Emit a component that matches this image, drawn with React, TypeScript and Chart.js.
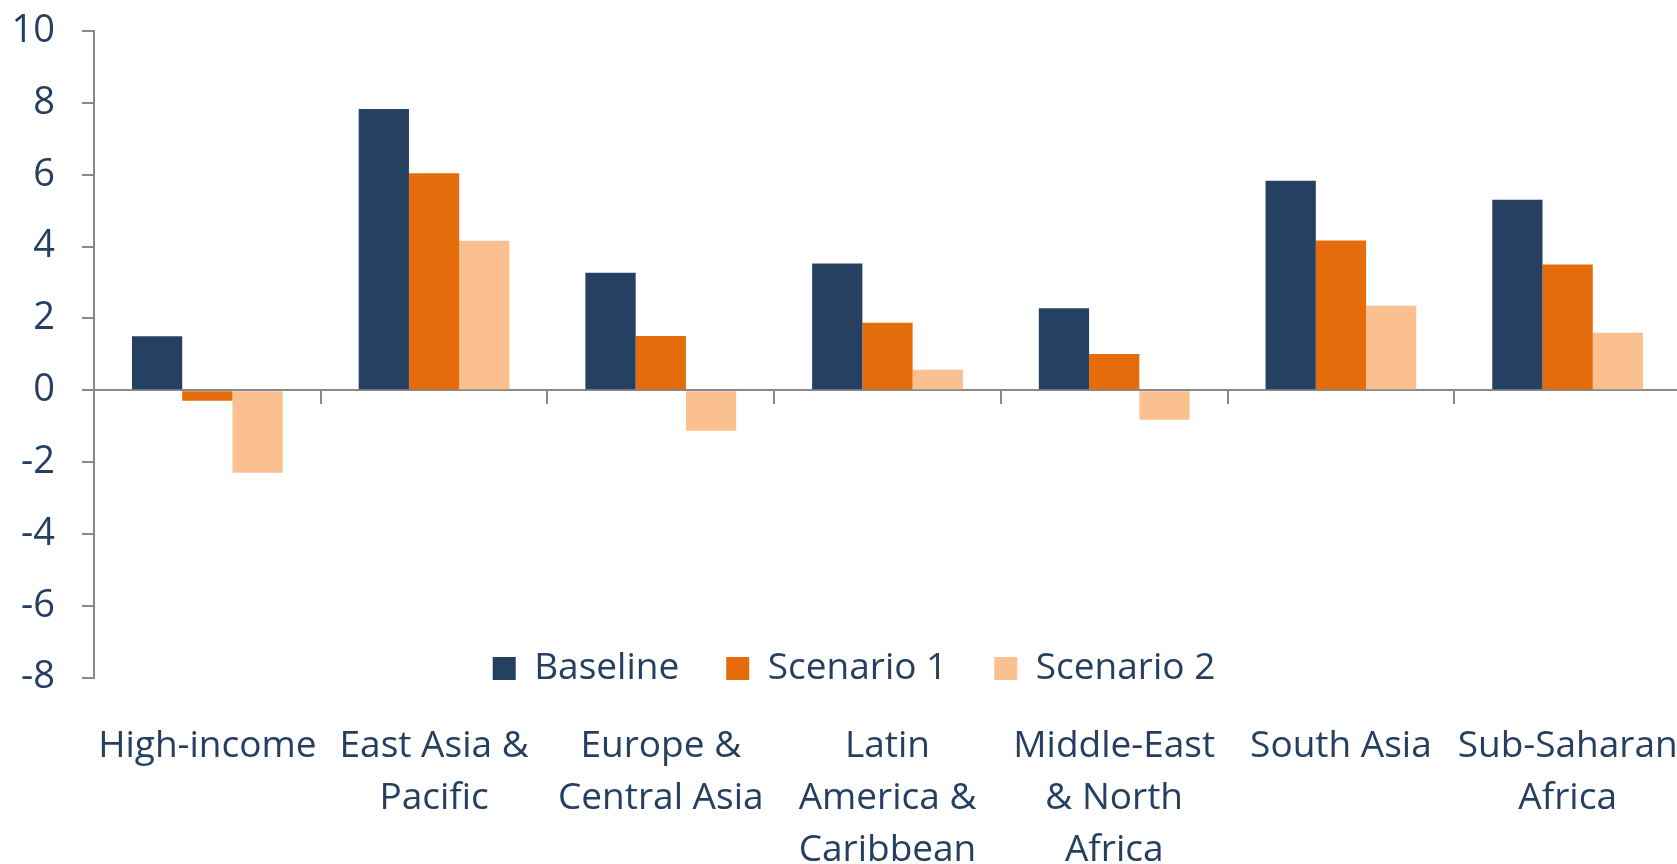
import React, { useEffect, useRef } from "react";
import { Chart, registerables } from "chart.js";

Chart.register(...registerables);

// ---- data ----
const categories: string[][] = [
  ["High-income"],
  ["East Asia &", "Pacific"],
  ["Europe &", "Central Asia"],
  ["Latin", "America &", "Caribbean"],
  ["Middle-East", "& North", "Africa"],
  ["South Asia"],
  ["Sub-Saharan", "Africa"],
];
const seriesNames = ["Baseline", "Scenario 1", "Scenario 2"];
const baseline = [1.5, 7.83, 3.27, 3.53, 2.28, 5.83, 5.3];
const scenario1 = [-0.29, 6.04, 1.51, 1.88, 1.01, 4.17, 3.5];
const scenario2 = [-2.3, 4.16, -1.13, 0.57, -0.82, 2.35, 1.6];
const yMin = -8;
const yMax = 10;
const yStep = 2;

// ---- style ----
const FONT = "'Open Sans', 'Noto Sans', sans-serif";
const TEXT = "#243F60";
const AXIS = "#898989";
const COLORS = ["#264061", "#E46C0A", "#FAC090"];
const LEGEND_CX = 854;
const LEGEND_CY = 671;
const PLOT_LEFT = 94;
const PLOT_TOP = 31;

const legendPlacer = {
  id: "legendPlacer",
  afterLayout(chart: any) {
    const lg = chart.legend;
    if (!lg) return;
    const pad = lg.options.labels.padding;
    const ih = lg._itemHeight ?? 42;
    const top = LEGEND_CY - pad - ih / 2;
    const dy = top - lg.top;
    lg.top += dy;
    lg.bottom += dy;
    const cx = (lg.left + lg.right) / 2;
    const dx = LEGEND_CX - cx;
    lg.left += dx;
    lg.right += dx;
  },
};

export default function App() {
  const ref = useRef<HTMLCanvasElement>(null);
  useEffect(() => {
    document.body.style.margin = "0";
    const values = [baseline, scenario1, scenario2];
    const chart = new Chart(ref.current!, {
      type: "bar",
      data: {
        labels: categories,
        datasets: seriesNames.map((name, i) => ({
          label: name,
          data: values[i],
          backgroundColor: COLORS[i],
          borderWidth: 0,
          xAxisID: "x",
          yAxisID: "y",
          categoryPercentage: 0.665,
          barPercentage: 1,
        })),
      },
      options: {
        responsive: false,
        animation: false,
        layout: { padding: { left: 0, right: 19, top: 0, bottom: 0 } },
        plugins: {
          tooltip: { enabled: false },
          legend: {
            position: "bottom",
            labels: {
              boxWidth: 23,
              boxHeight: 23,
              padding: 47,
              color: TEXT,
              font: { family: FONT, size: 37 },
            },
          },
        },
        scales: {
          x: {
            axis: "x",
            type: "category",
            position: { y: 0 } as any,
            offset: true,
            grid: {
              offset: true,
              drawOnChartArea: false,
              drawTicks: true,
              tickLength: 13,
              color: AXIS,
              lineWidth: 2,
            },
            border: { display: true, color: AXIS, width: 2 },
            ticks: { display: false },
          },
          x2: {
            axis: "x",
            type: "category",
            position: "bottom",
            offset: true,
            grid: { display: false, drawTicks: true, tickLength: 43 },
            border: { display: false },
            ticks: {
              autoSkip: false,
              maxRotation: 0,
              minRotation: 0,
              padding: 0,
              color: TEXT,
              font: { family: FONT, size: 37, lineHeight: 1.4 },
            },
          },
          y: {
            type: "linear",
            position: "left",
            min: yMin,
            max: yMax,
            afterFit(scale: any) {
              scale.width = PLOT_LEFT;
              scale.paddingTop = PLOT_TOP;
              scale.paddingBottom = 0;
            },
            grid: {
              drawOnChartArea: false,
              drawTicks: true,
              tickLength: 12,
              color: AXIS,
              lineWidth: 2,
            },
            border: { display: true, color: AXIS, width: 2 },
            ticks: {
              stepSize: yStep,
              padding: 27,
              color: TEXT,
              font: { family: FONT, size: 38 },
            },
          },
        },
      },
      plugins: [legendPlacer],
    });
    return () => chart.destroy();
  }, []);
  return (
    <div style={{ width: 1677, height: 864, overflow: "hidden", background: "#fff" }}>
      <canvas ref={ref} width={1700} height={970} style={{ width: 1700, height: 970, display: "block" }} />
    </div>
  );
}
